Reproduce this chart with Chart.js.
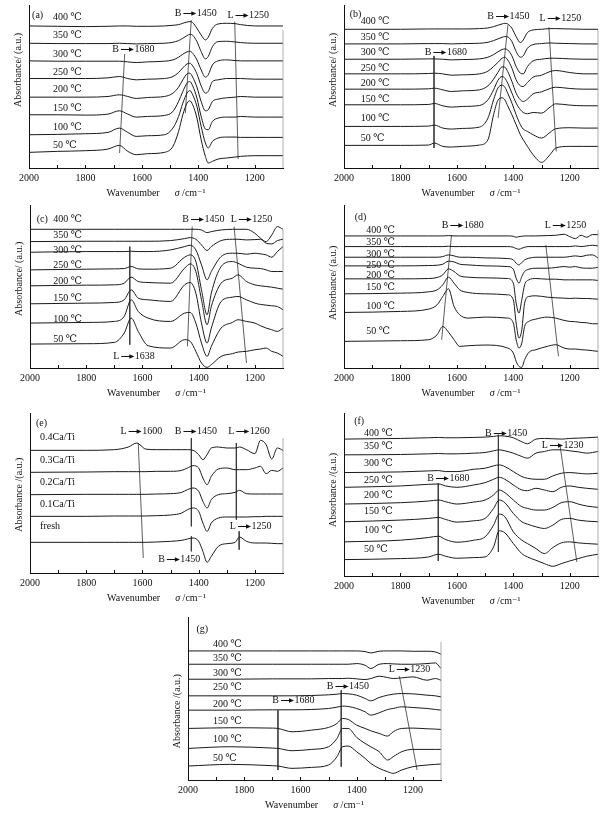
<!DOCTYPE html>
<html lang="en">
<head>
<meta charset="UTF-8">
<title>In situ DRIFTS spectra (a)-(g)</title>
<script src="https://cdn.jsdelivr.net/npm/chart.js"></script>
<style>
  html, body { margin: 0; padding: 0; background: #fff; }
  body { position: relative; width: 611px; height: 813px; overflow: hidden; }
  .panel { position: absolute; }
</style>
</head>
<body>
<div id="wrap"></div>
<script>
// ---- axis ticks ----
const xTicks = [2000, 1800, 1600, 1400, 1200];
const xMinor = [1900, 1800, 1700, 1600, 1500, 1400, 1300, 1200];
const temps = ['400 ℃', '350 ℃', '300 ℃', '250 ℃', '200 ℃', '150 ℃', '100 ℃', '50 ℃'];
const samples = ['0.4Ca/Ti', '0.3Ca/Ti', '0.2Ca/Ti', '0.1Ca/Ti', 'fresh'];

// ---- (a) ----
const wnA = [2000,1900,1800,1720,1680,1650,1620,1580,1520,1490,1470,1455,1440,1430,1420,1405,1390,1375,1365,1350,1330,1300,1270,1250,1200,1150,1100];
const a400 = [427,426,425,426,427,427,426,426,427,429,431,435,439,440,437,420,400,385,393,420,433,435,434,431,427,427,427];
const a350 = [375,374,374,374,375,374,373,374,375,378,383,390,398,402,399,380,350,328,335,365,380,381,379,377,375,375,375];
const a300 = [322,321,321,321,321,319,317,319,321,325,333,342,349,351,345,325,295,273,280,310,322,325,323,322,322,322,322];
const a250 = [269,269,269,271,275,269,265,267,269,275,287,301,313,315,307,283,247,225,230,260,265,269,269,269,267,267,267];
const a200 = [213,213,213,215,220,215,209,212,215,225,243,265,283,285,273,243,200,172,175,200,207,211,213,215,213,213,213];
const a150 = [160,160,159,162,172,162,153,155,158,170,200,230,255,260,247,210,155,117,115,140,150,153,153,155,153,153,153];
const a100 = [100,101,103,107,120,107,95,97,100,120,155,195,225,233,220,185,125,75,60,80,90,93,93,92,92,92,92];
const a50  = [47,50,52,57,68,50,40,43,47,65,110,160,195,202,190,150,85,35,15,20,27,30,33,35,37,37,37];
const markA = [[1661,343,1679,45],[1425,445,1446,165],[1271,440,1259,27]];
const arrowA = [['B','1680',1705,358],['B','1450',1484,465],['L','1250',1297,460]];
const labA = {wn: 1915, v: [453,398,343,287,235,180,123,68]};

// ---- (b) ----
const wnB = [2000,1900,1800,1700,1680,1650,1620,1580,1520,1490,1470,1455,1440,1430,1420,1405,1390,1375,1365,1350,1330,1300,1270,1250,1200,1150,1100];
const b400 = [417,417,417,418,418,418,418,418,419,421,425,429,433,435,433,420,395,377,385,407,415,417,419,419,418,417,417];
const b350 = [373,373,373,374,374,374,373,374,375,378,383,388,393,395,394,380,350,333,337,360,371,374,376,375,374,373,373];
const b300 = [327,327,327,328,328,327,325,326,328,333,341,349,356,358,355,337,305,285,283,305,322,327,330,330,328,327,327];
const b250 = [283,283,283,284,285,283,279,280,283,291,305,317,330,333,325,300,265,247,245,257,273,279,290,293,287,283,283];
const b200 = [237,237,237,238,240,235,230,232,235,247,267,287,304,303,290,260,225,205,200,207,223,229,239,243,239,237,237];
const b150 = [190,190,190,191,194,187,183,185,188,205,235,263,275,270,255,225,195,175,167,163,167,165,183,193,189,187,187];
const b100 = [125,125,125,126,129,120,117,119,123,150,205,240,249,243,225,195,160,130,117,110,100,90,107,118,121,120,120];
const b50  = [68,68,68,69,75,65,63,65,69,85,160,203,211,205,187,160,130,100,85,65,40,17,40,60,65,65,65];
const markB = [[1681,337,1681,60],[1419,430,1454,150],[1274,423,1248,50]];
const arrowB = [['B','1680',1714,350],['B','1450',1492,458],['L','1250',1307,450]];
const labB = {wn: 1941, v: [440,393,347,300,253,205,150,90]};

// ---- (c) ----
const wnC = [2000,1800,1700,1665,1640,1615,1580,1500,1450,1430,1410,1390,1370,1355,1320,1280,1260,1230,1200,1180,1160,1140,1120,1100];
const c400 = [417,417,417,417,417,417,417,417,417,417,417,415,407,410,415,417,417,417,405,390,380,400,425,417];
const c350 = [380,381,381,381,381,381,381,383,389,392,387,370,353,365,383,387,387,385,386,387,375,373,383,387];
const c300 = [348,350,350,350,351,350,350,355,365,369,355,310,265,290,335,345,345,342,345,343,340,333,350,365];
const c250 = [295,297,298,299,305,298,297,300,333,340,320,235,160,225,305,320,315,303,300,299,295,290,290,290];
const c200 = [247,249,250,255,273,260,257,255,300,313,290,205,130,185,255,270,280,260,250,247,245,243,240,237];
const c150 = [193,195,197,205,235,210,205,200,250,257,225,135,75,120,200,213,215,205,195,191,189,187,185,175];
const c100 = [135,137,140,155,205,170,150,140,165,167,135,75,35,65,120,137,145,140,135,127,120,115,110,120];
const c50  = [72,73,77,105,150,110,67,60,85,80,50,15,2,10,35,43,48,50,55,57,60,50,45,35];
const markC = [[1645,365,1645,70],[1423,425,1440,65],[1274,425,1230,15]];
const arrowC = [['B','1450',1458,447],['L','1250',1286,447],['L','1638',1704,35]];
const labC = {wn: 1917, v: [447,400,353,308,260,210,147,85]};

// ---- (d) ----
const wnD = [2000,1800,1700,1670,1650,1630,1610,1590,1560,1500,1420,1400,1390,1380,1370,1360,1345,1320,1280,1250,1220,1200,1180,1160,1140,1120,1100];
const d400 = [397,397,397,397,397,398,397,397,397,397,397,396,393,395,396,397,397,397,398,399,402,395,389,399,393,401,401];
const d350 = [365,365,365,365,365,366,365,365,365,365,365,363,359,357,360,363,365,365,365,365,365,365,367,365,367,369,367];
const d300 = [333,333,333,333,335,340,337,333,333,331,329,325,315,310,317,325,330,333,333,333,333,335,337,335,339,340,331];
const d250 = [307,307,308,309,312,321,319,312,310,307,305,297,270,255,275,290,297,300,300,302,305,303,305,301,300,300,303];
const d200 = [268,268,269,272,280,298,290,277,273,271,269,255,195,165,205,250,265,269,267,267,265,265,265,265,265,265,263];
const d150 = [223,225,229,235,250,273,255,235,227,223,220,205,135,90,115,195,215,217,213,211,210,209,210,209,209,208,207];
const d100 = [167,170,177,190,215,238,185,160,150,153,150,135,85,60,75,125,140,147,153,150,143,140,139,137,136,133,133];
const d50  = [80,82,85,100,125,108,85,65,67,69,60,45,20,5,2,25,47,55,65,70,60,57,57,55,54,52,50];
const markD = [[1619,400,1654,85],[1285,370,1240,35]];
const arrowD = [['B','1680',1654,430],['L','1250',1289,430]];
const labD = {wn: 1921, v: [415,378,343,310,277,243,185,110]};

// ---- (e) ----
const wnE = [2000,1800,1700,1650,1620,1605,1590,1550,1500,1460,1440,1420,1400,1385,1370,1355,1330,1300,1270,1255,1230,1200,1180,1160,1140,1120,1100];
const e04 = [368,368,370,378,390,382,372,370,370,370,370,368,355,340,355,375,378,375,375,378,370,358,398,385,342,375,368];
const e03 = [302,303,304,304,304,304,304,305,305,308,315,322,315,285,265,290,312,315,310,310,310,315,320,298,308,305,315];
const e02 = [235,236,236,236,236,236,236,237,238,242,250,255,245,215,195,220,235,238,242,248,238,237,237,237,237,237,237];
const e01 = [170,170,171,171,171,171,171,172,174,180,190,195,185,150,125,150,165,168,168,168,168,169,169,170,170,170,170];
const eFresh = [92,92,92,92,92,92,92,93,95,98,102,105,95,65,32,50,80,88,92,108,95,90,90,90,89,88,88];
const markE = [[1615,390,1597,45],[1426,405,1426,140],[1426,110,1426,65],[1266,390,1266,160],[1256,125,1256,70]];
const arrowE = [['L','1600',1678,427],['B','1450',1485,427],['L','1260',1295,425],['L','1250',1289,142],['B','1450',1544,42]];
const labE = {wn: 1964, v: [408,337,273,205,140]};

// ---- (f) ----
const wnF = [2000,1800,1700,1665,1640,1600,1540,1500,1470,1450,1430,1400,1370,1350,1320,1290,1260,1230,1200,1170,1140,1100];
const f400 = [409,411,413,414,413,413,414,415,417,419,418,413,401,395,409,411,410,409,411,412,413,415];
const f350 = [362,363,365,366,365,365,367,369,374,377,374,367,357,352,367,372,377,377,374,371,367,372];
const f300 = [309,311,314,315,312,312,319,322,329,332,327,312,297,292,289,289,299,307,309,307,305,307];
const f250 = [265,269,274,275,269,265,272,279,289,295,289,272,257,255,262,257,252,265,269,265,262,259];
const f200 = [215,219,224,227,222,215,221,227,242,257,249,227,207,202,197,197,205,219,222,215,209,205];
const f150 = [162,167,172,175,169,161,165,172,202,227,219,187,162,155,147,142,152,169,172,167,164,162];
const f100 = [102,107,115,119,109,101,107,117,152,185,177,132,107,97,82,67,85,99,102,99,97,95];
const f50  = [49,52,57,65,59,53,55,57,87,135,129,97,67,57,47,37,29,37,45,52,59,65];
const markF = [[1666,277,1666,45],[1453,422,1453,72],[1234,387,1175,42]];
const arrowF = [['B','1450',1500,427],['L','1230',1299,392],['B','1680',1705,292]];
const labF = {wn: 1929, v: [427,387,335,287,240,192,137,79]};

// ---- (g) ----
const wnG = [2000,1850,1700,1680,1630,1560,1500,1470,1450,1430,1400,1370,1350,1320,1290,1270,1240,1200,1150,1120,1100];
const g400 = [388,388,388,388,388,388,388,388,388,388,388,386,382,387,388,388,388,387,387,385,378];
const g350 = [348,348,348,348,348,348,348,348,348,348,350,345,335,348,350,349,348,348,350,352,335];
const g300 = [303,303,304,304,304,304,305,305,305,306,304,302,305,312,308,305,307,310,300,305,300];
const g250 = [253,253,253,253,253,254,256,258,260,259,255,245,238,248,255,258,260,259,255,253,250];
const g200 = [210,210,211,211,211,212,215,219,222,221,215,205,195,202,212,215,220,218,215,212,210];
const g150 = [155,157,156,155,145,150,158,170,185,182,165,155,148,140,132,145,155,156,154,153,152];
const g100 = [95,100,96,95,88,92,100,125,155,155,128,110,100,85,60,70,85,92,92,92,92];
const g50  = [42,47,43,42,35,38,45,70,100,102,85,65,50,35,25,20,30,40,45,47,48];
const markG = [[1680,210,1680,30],[1455,270,1455,40],[1248,312,1185,30]];
const arrowG = [['B','1450',1506,282],['L','1230',1286,335],['B','1680',1700,240]];
const labG = {wn: 1911, v: [408,365,322,278,228,175,122,65]};

// ---- layout ----
const FONT = '"Liberation Serif", "DejaVu Serif", serif';
const ML = 17, MR = 8, MT = 2, MB = 31;
const panels = [
  {tag: '(a)', tagAt: [1989, 460], box: {l: 29, t: 5, r: 283, b: 168}, yMax: 490, wn: wnA, yTitleAt: 295,
   series: [a400, a350, a300, a250, a200, a150, a100, a50], names: temps, lab: labA, marks: markA, arrows: arrowA, yTitle: 'Absorbance/ (a.u.)'},
  {tag: '(b)', tagAt: [1980, 463], box: {l: 344, t: 5, r: 598, b: 168}, yMax: 490, wn: wnB, yTitleAt: 295,
   series: [b400, b350, b300, b250, b200, b150, b100, b50], names: temps, lab: labB, marks: markB, arrows: arrowB, yTitle: 'Absorbance/ (a.u.)'},
  {tag: '(c)', tagAt: [1976, 447], box: {l: 30, t: 205, r: 283, b: 368}, yMax: 490, wn: wnC, yTitleAt: 268,
   series: [c400, c350, c300, c250, c200, c150, c100, c50], names: temps, lab: labC, marks: markC, arrows: arrowC, yTitle: 'Absorbance/ (a.u.)'},
  {tag: '(d)', tagAt: [1962, 453], box: {l: 344, t: 205, r: 598, b: 368}, yMax: 490, wn: wnD, yTitleAt: 256,
   series: [d400, d350, d300, d250, d200, d150, d100, d50], names: temps, lab: labD, marks: markD, arrows: arrowD, yTitle: 'Absorbance/ (a.u.)'},
  {tag: '(e)', tagAt: [1979, 450], box: {l: 30, t: 413, r: 283, b: 573}, yMax: 480, wn: wnE, yTitleAt: 235,
   series: [e04, e03, e02, e01, eFresh], names: samples, lab: labE, marks: markE, arrows: arrowE, yTitle: 'Absorbance /(a.u.)'},
  {tag: '(f)', tagAt: [1964, 462], box: {l: 344, t: 413, r: 598, b: 576}, yMax: 487, wn: wnF, yTitleAt: 257,
   series: [f400, f350, f300, f250, f200, f150, f100, f50], names: temps, lab: labF, marks: markF, arrows: arrowF, yTitle: 'Absorbance /(a.u.)'},
  {tag: '(g)', tagAt: [1970, 452], box: {l: 188, t: 617, r: 441, b: 780}, yMax: 490, wn: wnG, yTitleAt: 207,
   series: [g400, g350, g300, g250, g200, g150, g100, g50], names: temps, lab: labG, marks: markG, arrows: arrowG, yTitle: 'Absorbance /(a.u.)'}
];

// texts, arrows, titles, inward ticks and the thin right frame
const notesPlugin = {
  id: 'notes',
  afterDatasetsDraw(chart, args, opts) {
    const {ctx, chartArea: ca, scales: {x, y}} = chart;
    ctx.save();
    ctx.strokeStyle = '#111';
    ctx.fillStyle = '#111';
    ctx.lineWidth = 1;
    xMinor.forEach(w => {
      const px = Math.round(x.getPixelForValue(w)) + 0.5;
      ctx.beginPath(); ctx.moveTo(px, ca.bottom); ctx.lineTo(px, ca.bottom - 3); ctx.stroke();
    });
    ctx.strokeStyle = '#999';
    ctx.lineWidth = 0.8;
    ctx.beginPath(); ctx.moveTo(ca.right, ca.top + 25); ctx.lineTo(ca.right, ca.bottom); ctx.stroke();

    ctx.font = '10px ' + FONT;
    ctx.textBaseline = 'middle';
    ctx.textAlign = 'left';
    ctx.fillText(opts.tag, x.getPixelForValue(opts.tagAt[0]), y.getPixelForValue(opts.tagAt[1]));
    opts.names.forEach((t, i) => {
      ctx.fillText(t, x.getPixelForValue(opts.lab.wn), y.getPixelForValue(opts.lab.v[i]));
    });
    ctx.strokeStyle = '#111';
    ctx.lineWidth = 1;
    opts.arrows.forEach(([a, n, w, v]) => {
      let px = x.getPixelForValue(w);
      const py = Math.round(y.getPixelForValue(v)) + 0.5;
      ctx.fillText(a, px, py);
      px += ctx.measureText(a).width + 2;
      ctx.beginPath(); ctx.moveTo(px, py); ctx.lineTo(px + 9, py); ctx.stroke();
      ctx.beginPath(); ctx.moveTo(px + 13, py); ctx.lineTo(px + 8, py - 2.2); ctx.lineTo(px + 8, py + 2.2); ctx.closePath(); ctx.fill();
      ctx.fillText(n, px + 13.5, py);
    });

    // x title: Wavenumber   σ /cm-1 (σ in italics)
    const italic = 'italic 10px ' + FONT;
    const plain = '10px ' + FONT;
    const parts = [['Wavenumber', plain], ['      ', plain], ['σ', italic], [' /cm⁻¹', plain]];
    let total = 0;
    parts.forEach(([t, f]) => { ctx.font = f; total += ctx.measureText(t).width; });
    let tx = (ca.left + ca.right) / 2 - total / 2;
    const ty = ca.bottom + 25;
    parts.forEach(([t, f]) => { ctx.font = f; ctx.fillText(t, tx, ty); tx += ctx.measureText(t).width; });

    // y title, rotated
    ctx.font = plain;
    ctx.textAlign = 'center';
    ctx.translate(ca.left - 11, y.getPixelForValue(opts.yTitleAt));
    ctx.rotate(-Math.PI / 2);
    ctx.fillText(opts.yTitle, 0, 0);
    ctx.restore();
  }
};

// one chart per panel
function buildPanel(p) {
  const div = document.createElement('div');
  div.className = 'panel';
  div.style.left = (p.box.l - ML) + 'px';
  div.style.top = (p.box.t - MT) + 'px';
  div.style.width = (p.box.r - p.box.l + ML + MR) + 'px';
  div.style.height = (p.box.b - p.box.t + MT + MB) + 'px';
  const cv = document.createElement('canvas');
  div.appendChild(cv);
  document.getElementById('wrap').appendChild(div);

  const datasets = p.series.map(vals => ({
    data: p.wn.map((w, i) => ({x: w, y: vals[i]})),
    borderColor: '#1a1a1a', borderWidth: 1, pointRadius: 0,
    cubicInterpolationMode: 'monotone', fill: false
  }));
  p.marks.forEach(m => datasets.push({
    data: [{x: m[0], y: m[1]}, {x: m[2], y: m[3]}],
    borderColor: '#333', borderWidth: 0.8, pointRadius: 0, tension: 0, fill: false
  }));

  new Chart(cv, {
    type: 'line',
    data: {datasets},
    plugins: [notesPlugin],
    options: {
      responsive: true, maintainAspectRatio: false, animation: false,
      layout: {padding: {top: MT, right: MR, left: 0, bottom: 0}},
      plugins: {
        legend: {display: false}, tooltip: {enabled: false},
        notes: {tag: p.tag, tagAt: p.tagAt, names: p.names, lab: p.lab, arrows: p.arrows,
                yTitle: p.yTitle, yTitleAt: p.yTitleAt}
      },
      scales: {
        x: {
          type: 'linear', reverse: true, min: 1100, max: 2000,
          grid: {display: false, drawTicks: false}, border: {color: '#111', width: 1},
          afterBuildTicks: s => { s.ticks = xTicks.map(v => ({value: v})); },
          ticks: {color: '#111', font: {family: FONT, size: 10}, padding: 4, maxRotation: 0, autoSkip: false,
                  callback: v => String(v)},
          afterFit: s => { s.height = MB; }
        },
        y: {
          type: 'linear', min: 0, max: p.yMax,
          grid: {display: false, drawTicks: false}, ticks: {display: false}, border: {color: '#111', width: 1},
          afterFit: s => { s.width = ML; }
        }
      }
    }
  });
}

document.addEventListener('DOMContentLoaded', function () {
  panels.forEach(buildPanel);
});
</script>
</body>
</html>
